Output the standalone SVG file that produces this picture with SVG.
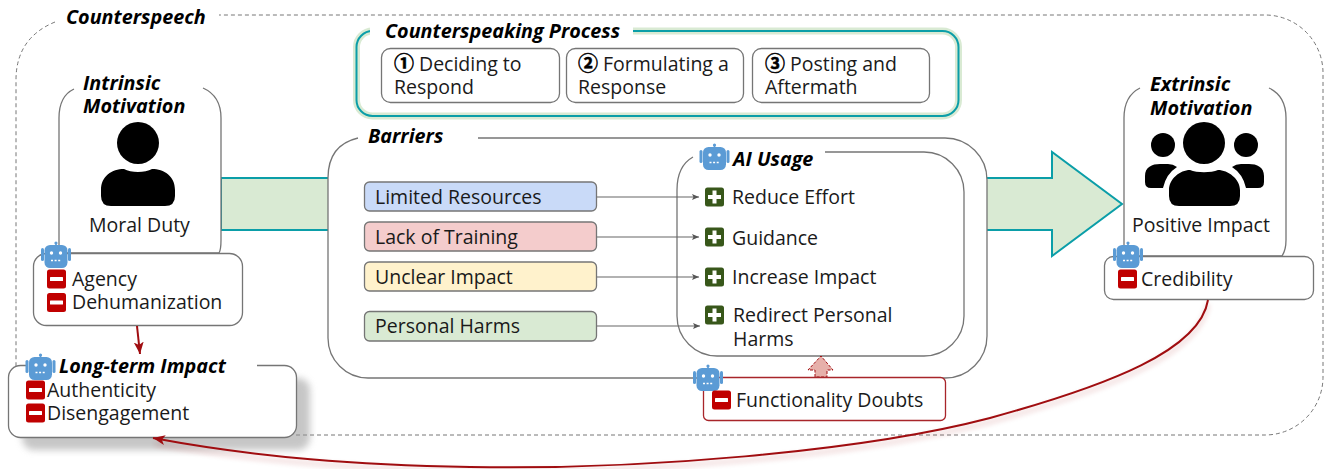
<svg xmlns="http://www.w3.org/2000/svg" xmlns:xlink="http://www.w3.org/1999/xlink" width="1325" height="469" viewBox="0 0 1325 469">
<style>
text{font-family:"Open Sans","Noto Sans","DejaVu Sans",sans-serif;font-size:19.5px;fill:#1a1a1a}
.t{font-weight:700;font-style:italic;fill:#000;font-size:19.8px}
.n{font-family:"Noto Sans CJK SC","DejaVu Sans",sans-serif;font-weight:700;font-size:20px;fill:#000;stroke:#000;stroke-width:.5}
.box{fill:#fff;stroke:#757575;stroke-width:1.3}
.ln{fill:none;stroke:#757575;stroke-width:1.3}
.c{fill:none;stroke:#666;stroke-width:1.2;marker-end:url(#g)}
.red{fill:none;stroke:#a00d10;stroke-width:2}
.bar{stroke:#757575;stroke-width:1.3}
</style>
<defs>
<marker id="g" markerUnits="userSpaceOnUse" markerWidth="8" markerHeight="8" refX="7" refY="4" orient="auto"><path d="M0 1L7 4L0 7L1.5 4Z" fill="#555"/></marker>
<marker id="r" markerUnits="userSpaceOnUse" markerWidth="14" markerHeight="14" refX="12" refY="7" orient="auto"><path d="M0 2L12 7L0 12L3 7Z" fill="#a00d10"/></marker>
<filter id="sh" x="-10%" y="-20%" width="125%" height="150%"><feGaussianBlur stdDeviation="3.5"/></filter>
<filter id="bl" x="-5%" y="-30%" width="110%" height="170%"><feGaussianBlur stdDeviation="2.5"/></filter>
<g id="bot"><rect x="-15" y="-7" width="3" height="13" rx="1.5" fill="#5b9bd5"/><rect x="12" y="-7" width="3" height="13" rx="1.5" fill="#5b9bd5"/><circle cx="0" cy="-12" r="1.6" fill="#5b9bd5"/><rect x="-.8" y="-12" width="1.6" height="3" fill="#5b9bd5"/><rect x="-11.5" y="-10" width="23" height="23" rx="5.5" fill="#5b9bd5"/><circle cx="-4.5" cy="-2" r="1.7" fill="#fff"/><circle cx="4.5" cy="-2" r="1.7" fill="#fff"/><path d="M-5 5.5H5" stroke="#fff" stroke-width="1.3" stroke-dasharray="2 1.6"/></g>
<g id="minus"><rect x="-9.5" y="-9.500" width="19" height="19" rx="2.5" fill="#c00000"/><rect x="-6.500" y="-2" width="13" height="4" rx=".5" fill="#fff"/></g>
<g id="plus"><rect x="-9.500" y="-9.500" width="19" height="19" rx="2.500" fill="#38571a"/><path d="M-6.500 0H6.500M0 -6.500V6.500" stroke="#fff" stroke-width="4"/></g>
</defs>

<g id="counterspeech">
<path d="M55 22Q16 38 16 80V380M296 435H1265A58 58 0 0 0 1323 377V73A58 58 0 0 0 1265 15H219" fill="none" stroke="#777" stroke-width="1" stroke-dasharray="4 3"/>
<text class="t" x="66" y="24">Counterspeech</text>
</g>

<g id="flow-arrow">
<path d="M221 178H1052V152L1122 204L1052 256V230H221Z" fill="#d9ead3" stroke="#0b9ea8" stroke-width="2"/>
</g>

<g id="process">
<rect x="356.500" y="31" width="602" height="85" rx="16" fill="none" stroke="#d9ead3" stroke-width="7"/>
<rect x="356.500" y="31" width="602" height="85" rx="16" fill="none" stroke="#0b9ea8" stroke-width="2"/>
<rect x="370" y="16" width="263" height="30" fill="#fff"/>
<text class="t" x="385" y="38">Counterspeaking Process</text>
<rect class="box" x="381.500" y="48.500" width="178" height="54" rx="9"/>
<text x="394" y="71"><tspan class="n">①</tspan><tspan dx="5">Deciding to</tspan><tspan x="394" y="94">Respond</tspan></text>
<rect class="box" x="566.500" y="48.500" width="177" height="54" rx="9"/>
<text x="578" y="71"><tspan class="n">②</tspan><tspan dx="5">Formulating a</tspan><tspan x="578" y="94">Response</tspan></text>
<rect class="box" x="752.500" y="48.500" width="177" height="54" rx="9"/>
<text x="765" y="71"><tspan class="n">③</tspan><tspan dx="5">Posting and</tspan><tspan x="765" y="94">Aftermath</tspan></text>
</g>

<g id="intrinsic">
<path class="box" d="M74 89Q59 96 59 118V253H219Q221 250 221 240V118Q221 96 203 88" />
<text class="t" x="83" y="90">Intrinsic<tspan x="83" y="113">Motivation</tspan></text>
<circle cx="138" cy="143" r="21" fill="#000"/>
<path d="M101 196V190C101 176 112 169 124 169C131 173 145 173 152 169C164 169 175 176 175 190V196Q175 206 165 206H111Q101 206 101 196Z" fill="#000"/>
<text x="89" y="232">Moral Duty</text>
</g>

<g id="agency">
<rect class="box" x="33.500" y="253.500" width="209" height="72" rx="13"/>
<use xlink:href="#bot" href="#bot" x="56" y="255"/>
<use xlink:href="#minus" href="#minus" x="56.500" y="279"/><text x="72" y="286">Agency</text>
<use xlink:href="#minus" href="#minus" x="56.500" y="302.500"/><text x="72" y="309">Dehumanization</text>
</g>

<g id="longterm">
<rect x="22" y="378" width="288" height="72" rx="12" fill="#999" opacity=".55" filter="url(#sh)"/>
<rect class="box" x="8.500" y="365.500" width="288" height="72" rx="12"/>
<rect x="26" y="358" width="231" height="14" fill="#fff"/>
<use xlink:href="#bot" href="#bot" x="40.500" y="367"/>
<text class="t" x="59" y="373">Long-term Impact</text>
<use xlink:href="#minus" href="#minus" x="35.500" y="390"/><text x="47" y="397">Authenticity</text>
<use xlink:href="#minus" href="#minus" x="35.500" y="413"/><text x="47" y="420">Disengagement</text>
</g>

<g id="barriers">
<path d="M358 138Q328 145 328 178V338A40 40 0 0 0 368 378H945A42 42 0 0 0 987 336V180A42 42 0 0 0 945 138H478" class="box"/>
<text class="t" x="368" y="143">Barriers</text>
<rect class="bar" x="364.500" y="182" width="232" height="29" rx="5" fill="#c9daf8"/><text x="375" y="204">Limited Resources</text>
<rect class="bar" x="364.500" y="222" width="232" height="29" rx="5" fill="#f4cccc"/><text x="375" y="244">Lack of Training</text>
<rect class="bar" x="364.500" y="262" width="232" height="29" rx="5" fill="#fff2cc"/><text x="375" y="284">Unclear Impact</text>
<rect class="bar" x="364.500" y="311.500" width="232" height="29.500" rx="5" fill="#d9ead3"/><text x="375" y="333">Personal Harms</text>
</g>

<g id="ai-usage">
<path class="box" d="M693 157Q677 166 677 190V316A40 40 0 0 0 717 356H924A40 40 0 0 0 964 316V192A40 40 0 0 0 924 152H825"/>
<use xlink:href="#bot" href="#bot" x="714.500" y="157"/>
<text class="t" x="733" y="166">AI Usage</text>
<use xlink:href="#plus" href="#plus" x="714.500" y="197"/><text x="732" y="204">Reduce Effort</text>
<use xlink:href="#plus" href="#plus" x="714.500" y="237"/><text x="732" y="245">Guidance</text>
<use xlink:href="#plus" href="#plus" x="714.500" y="277"/><text x="732" y="284">Increase Impact</text>
<use xlink:href="#plus" href="#plus" x="714.500" y="315"/><text x="733" y="322">Redirect Personal<tspan x="733" y="346">Harms</tspan></text>
</g>

<g id="extrinsic">
<path class="box" d="M1140 88Q1124 96 1124 118V256H1282Q1286 250 1286 240V118Q1286 96 1269 88"/>
<text class="t" x="1150" y="91">Extrinsic<tspan x="1150" y="115">Motivation</tspan></text>
<circle cx="1204" cy="143" r="21" fill="#000"/>
<circle cx="1163" cy="145" r="12" fill="#000"/><circle cx="1246" cy="145" r="12" fill="#000"/>
<path d="M1145 176C1145 167 1152 164 1160 164H1168Q1173 164 1177 167Q1166 174 1163 188H1151Q1145 188 1145 182Z" fill="#000"/>
<path d="M1264 176C1264 167 1257 164 1249 164H1241Q1236 164 1232 167Q1243 174 1246 188H1258Q1264 188 1264 182Z" fill="#000"/>
<path d="M1169 196V190C1169 179 1180 170 1190 170C1197 173 1211 173 1218 170C1228 170 1240 179 1240 190V196Q1240 206 1230 206H1179Q1169 206 1169 196Z" fill="#000"/>
<text x="1132" y="232">Positive Impact</text>
</g>

<g id="credibility">
<rect class="box" x="1104.500" y="256.500" width="209" height="43" rx="9"/>
<use xlink:href="#bot" href="#bot" x="1128" y="255"/>
<use xlink:href="#minus" href="#minus" x="1127.500" y="279"/><text x="1141" y="286">Credibility</text>
</g>

<g id="connectors">
<path class="c" d="M597 197H699"/>
<path class="c" d="M597 237H699"/>
<path class="c" d="M597 277H699"/>
<path class="c" d="M597 326H700"/>
<path d="M1208 300C1200 350 1110 385 990 418C860 452 640 470 470 467C360 465 260 458 155 440" fill="none" stroke="#a00d10" stroke-width="5" opacity=".12" filter="url(#bl)" transform="translate(0 4)"/>
<path class="red" d="M1208 300C1200 350 1110 385 990 418C860 452 640 470 470 467C360 465 260 458 153 438" marker-end="url(#r)"/>
<path class="red" d="M137 326L140 354" marker-end="url(#r)"/>
<path d="M815 377V370H808L821 356L833 370H827V377Z" fill="#e6b0aa" stroke="#a00d10" stroke-width="1" stroke-dasharray="3 1.5"/>
</g>

<g id="doubts">
<rect x="703.500" y="377.500" width="242" height="43" rx="5" fill="#fff" stroke="#a8252a" stroke-width="1.300"/>
<use xlink:href="#bot" href="#bot" x="708" y="378"/>
<use xlink:href="#minus" href="#minus" x="721.500" y="400"/><text x="736" y="407">Functionality Doubts</text>
</g>
</svg>
